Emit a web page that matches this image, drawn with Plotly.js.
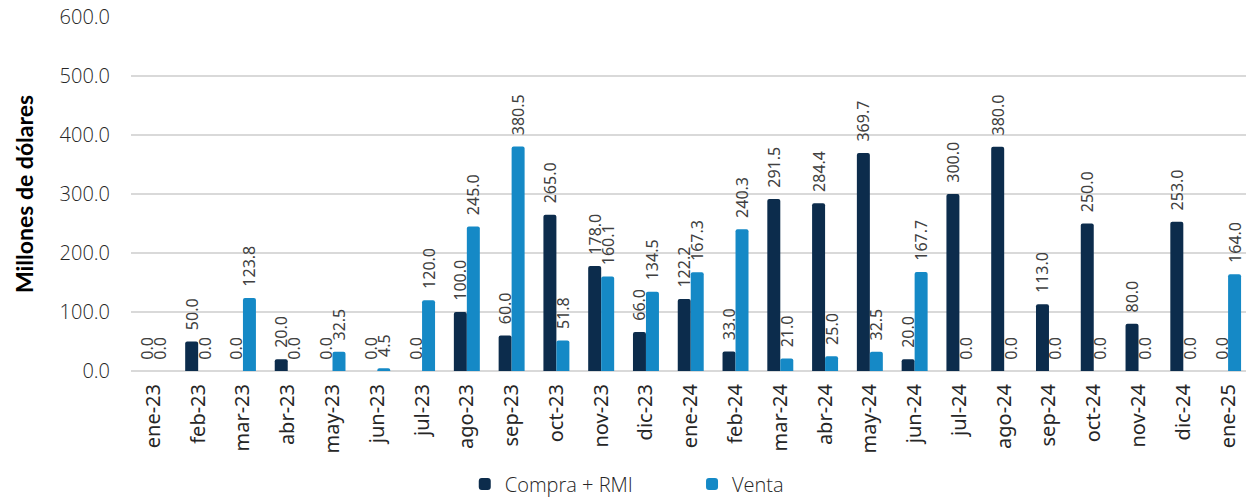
<!DOCTYPE html>
<html>
<head>
<meta charset="utf-8">
<script src="https://cdn.plot.ly/plotly-3.0.1.min.js"></script>
<style>html,body{margin:0;padding:0;background:#fff;overflow:hidden}#chart{width:1246px;height:497px}</style>
</head>
<body>
<div id="chart"></div>
<script>
const months = ["ene-23","feb-23","mar-23","abr-23","may-23","jun-23","jul-23","ago-23","sep-23","oct-23","nov-23","dic-23","ene-24","feb-24","mar-24","abr-24","may-24","jun-24","jul-24","ago-24","sep-24","oct-24","nov-24","dic-24","ene-25"];
const compra = [0,50,0,20,0,0,0,100,60,265,178,66,122.2,33,291.5,284.4,369.7,20,300,380,113,250,80,253,0];
const venta = [0,0,123.8,0,32.5,4.5,120,245,380.5,51.8,160.1,134.5,167.3,240.3,21,25,32.5,167.7,0,0,0,0,0,0,164];
const yTicks = [0,100,200,300,400,500,600];
const seriesNames = ["Compra + RMI","Venta"];

const labelFont = {family:"Noto Sans, DejaVu Sans, sans-serif", size:16, color:"#404040"};
function mk(name, vals, color, leg){
  return {
    type:"bar", name:name, x:months, y:vals, legend:leg,
    marker:{color:color, cornerradius:2},
    text:vals.map(v=>"\u00a0\u00a0" + v.toFixed(1)), textposition:"outside", textangle:-90,
    textfont:labelFont, cliponaxis:false, constraintext:"none",
    hoverinfo:"skip"
  };
}
const data = [mk(seriesNames[0], compra, "#0C2C4C", "legend"), mk(seriesNames[1], venta, "#1589C6", "legend2")];

const legFont = {family:"Open Sans, sans-serif", size:20, color:"#262626", weight:300};
const layout = {
  width:1246, height:497,
  margin:{l:131, r:0, t:17, b:126},
  paper_bgcolor:"#fff", plot_bgcolor:"#fff",
  barmode:"group", bargap:0.42, bargroupgap:0,
  showlegend:true,
  legend:{orientation:"h", xref:"container", yref:"container", x:0.373, xanchor:"left", y:0.026, yanchor:"middle",
    font:legFont, itemwidth:30, bgcolor:"rgba(0,0,0,0)"},
  legend2:{orientation:"h", xref:"container", yref:"container", x:0.5554, xanchor:"left", y:0.026, yanchor:"middle",
    font:legFont, itemwidth:30, bgcolor:"rgba(0,0,0,0)"},
  xaxis:{type:"category", range:[-0.5,24.4], tickangle:-90, showgrid:false, zeroline:false, showline:false,
    ticks:"", ticklabelstandoff:8, tickfont:{family:"Noto Sans, sans-serif", size:20, color:"#262626"}, automargin:false},
  yaxis:{range:[0,600], tickvals:yTicks, ticktext:yTicks.map(v=>v.toFixed(1)),
    showgrid:true, gridcolor:"#D9D9D9", gridwidth:2, zeroline:true, zerolinecolor:"#D9D9D9", zerolinewidth:2,
    ticks:"", ticklabelstandoff:20,
    tickfont:{family:"Open Sans, sans-serif", size:20, color:"#262626", weight:300},
    title:{text:"<b>Millones de dólares</b>", font:{family:"Lato, sans-serif", size:23, color:"#000"}, standoff:19},
    automargin:false}
};
Plotly.newPlot("chart", data, layout, {displayModeBar:false, staticPlot:true});
</script>
</body>
</html>
